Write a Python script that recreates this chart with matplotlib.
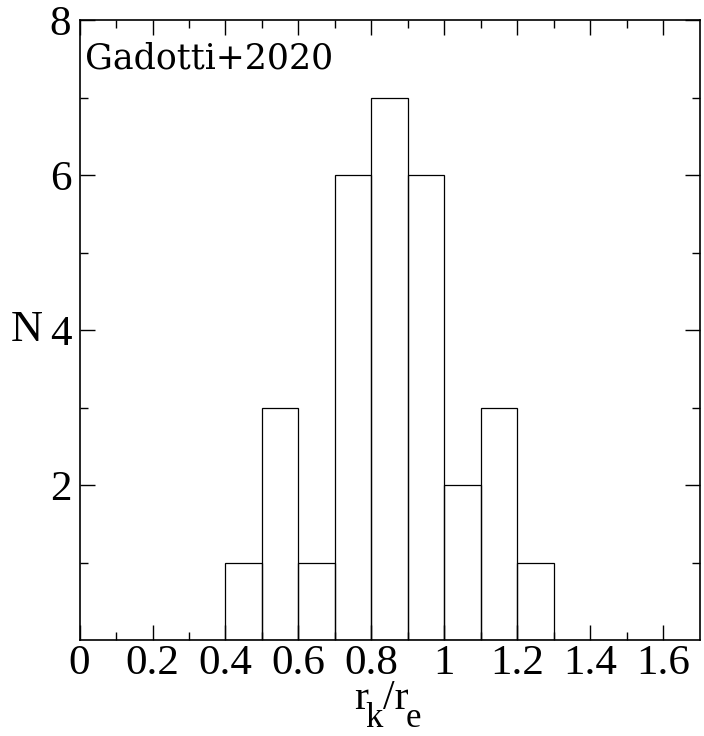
import numpy as np
import matplotlib
matplotlib.use('Agg')
import matplotlib.pyplot as plt
from matplotlib.ticker import FixedLocator

# histogram of r_k / r_e
bin_left = [0.4, 0.5, 0.6, 0.7, 0.8, 0.9, 1.0, 1.1, 1.2]
counts = [1, 3, 1, 6, 7, 6, 2, 3, 1]
bin_width = 0.1

x_ticks = [0, 0.2, 0.4, 0.6, 0.8, 1.0, 1.2, 1.4, 1.6]
x_labels = ['0', '0.2', '0.4', '0.6', '0.8', '1', '1.2', '1.4', '1.6']
y_ticks = [2, 4, 6, 8]
y_labels = ['2', '4', '6', '8']

W, H = 704, 736
fig = plt.figure(figsize=(W / 100, H / 100), dpi=100)
ax = fig.add_axes([0.113, 0.1304, 0.881, 0.8424])

ax.bar(bin_left, counts, width=bin_width, align='edge', fill=False,
       edgecolor='black', linewidth=0.9)

ax.set_xlim(0, 1.7)
ax.set_ylim(0, 8)
ax.set_xticks(x_ticks)
ax.set_xticklabels(x_labels)
ax.set_yticks(y_ticks)
ax.set_yticklabels(y_labels)
ax.xaxis.set_minor_locator(FixedLocator(np.arange(0.1, 1.7, 0.2)))
ax.yaxis.set_minor_locator(FixedLocator([1, 3, 5, 7]))

for lab in ax.get_xticklabels() + ax.get_yticklabels():
    lab.set_fontfamily('Liberation Serif')
    lab.set_fontsize(31)

ax.tick_params(which='both', direction='in', top=True, right=True,
               width=1.0, color='black')
ax.tick_params(which='major', length=11, pad=6)
ax.tick_params(which='minor', length=6)
ax.tick_params(axis='x', which='major', pad=3)

for s in ax.spines.values():
    s.set_linewidth(1.2)

# y label "N", horizontal, left of the 4 tick
fig.text(11 / W, 1 - 330 / H, 'N', fontfamily='Liberation Serif',
         fontsize=32, ha='left', va='center')

# x label r_k/r_e with deep subscripts (text, x px, baseline px, size)
pieces = [('r', 354, 709, 30), ('k', 365, 727, 25),
          ('/r', 383, 709, 30), ('e', 406, 727, 25)]
for txt, xp, yp, size in pieces:
    fig.text(xp / W, 1 - yp / H, txt, fontfamily='Liberation Serif',
             fontsize=size, ha='left', va='baseline')

ax.text(0.008, 0.9226, 'Gadotti+2020', transform=ax.transAxes,
        fontfamily='DejaVu Serif', fontsize=25, va='baseline', ha='left')

fig.savefig('out.png', dpi=100)
